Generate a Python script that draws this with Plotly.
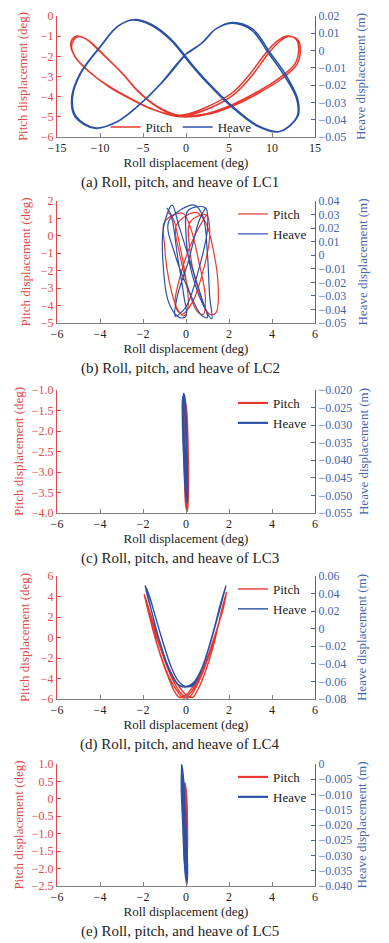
import plotly.graph_objects as go

# ---------------- DATA ----------------
# LC1 : pitch vs roll (two cycles)
lc1_pitch_roll = [0.2, 2.5, 5.3, 8.0, 10.8, 12.7, 13.1, 12.8, 11.7, 10.6, 9.4, 7.2, 5.3, 2.5, 0.0, -1.0, -3.3, -5.5, -7.4, -10.0, -11.6, -12.7, -13.3, -13.4, -12.9, -11.5, -9.2, -6.5, -4.1, -1.4,
                  0.4, 2.7, 5.5, 8.2, 11.0, 12.9, 13.3, 13.0, 11.9, 10.8, 9.6, 7.4, 5.4, 2.6, 0.1, -0.9, -3.2, -5.4, -7.3, -9.8, -11.4, -12.5, -13.1, -13.3, -12.8, -11.3, -9.0, -6.3, -3.9, -1.2, 0.4]
lc1_pitch = [-4.97, -4.83, -4.41, -3.83, -3.09, -2.35, -1.6, -1.15, -0.99, -1.25, -1.77, -3.0, -3.83, -4.5, -4.88, -4.91, -4.5, -3.75, -2.84, -1.77, -1.15, -0.99, -1.2, -1.5, -2.02, -2.68, -3.42, -4.08, -4.58, -4.93,
             -5.0, -4.86, -4.45, -3.88, -3.15, -2.4, -1.65, -1.18, -1.02, -1.3, -1.85, -3.1, -3.95, -4.6, -4.93, -4.95, -4.55, -3.82, -2.9, -1.82, -1.2, -1.02, -1.22, -1.55, -2.08, -2.74, -3.5, -4.15, -4.63, -4.97, -5.0]
# LC1 : heave vs roll (two cycles)
lc1_heave_roll = [-0.2, 1.8, 3.3, 5.3, 7.6, 9.6, 11.5, 12.9, 12.9, 10.8, 8.4, 5.3, 2.5, 0.6, -1.8, -4.1, -6.2, -8.0, -10.0, -12.3, -13.3, -12.9, -10.6, -8.0, -5.7, -2.9,
                  -0.1, 1.9, 3.4, 5.4, 7.8, 9.8, 11.7, 13.0, 13.0, 10.9, 8.5, 5.4, 2.6, 0.7, -1.7, -4.0, -6.0, -7.9, -9.9, -12.2, -13.2, -12.8, -10.5, -7.9, -5.6, -2.8, -0.1]
lc1_heave = [-0.0026, 0.0042, 0.0119, 0.0158, 0.0119, -0.0016, -0.0151, -0.0286, -0.0383, -0.047, -0.044, -0.0325, -0.0189, -0.0083, 0.0061, 0.0148, 0.0177, 0.0138, 0.0022, -0.0131, -0.0276, -0.0383, -0.045, -0.0411, -0.0325, -0.0189,
             -0.0024, 0.0045, 0.0122, 0.0162, 0.0122, -0.0014, -0.0148, -0.0283, -0.0381, -0.0468, -0.0438, -0.0322, -0.0186, -0.0080, 0.0064, 0.0151, 0.0180, 0.0141, 0.0025, -0.0128, -0.0273, -0.0380, -0.0448, -0.0409, -0.0322, -0.0186, -0.0024]

# LC2
lc2_pitch_roll = [-0.85, -0.6, -0.3, 0.0, 0.1, -0.1, -0.4, -0.8, -1.0, -1.0,
                  -0.15, 0.2, 0.6, 0.9, 0.8, 0.5, 0.1, -0.3, -0.45,
                  0.45, 0.9, 1.3, 1.5, 1.4, 1.1, 0.6, 0.2, 0.2,
                  0.95, 1.1, 0.8, 0.3, -0.2, -0.5, -0.2, 0.4, 0.95]
lc2_pitch = [1.35, 1.0, -0.5, -2.5, -4.0, -4.6, -4.2, -2.5, -0.5, 0.8,
             1.3, 0.5, -1.5, -3.5, -4.5, -4.3, -3.0, -1.0, 0.6,
             1.35, 0.8, -1.0, -3.0, -4.4, -4.5, -3.2, -1.0, 0.8,
             1.2, 0.0, -2.0, -3.8, -4.5, -4.0, -2.0, 0.0, 1.2]
lc2_heave_roll = [-0.9, -0.7, -0.4, -0.1, 0.0, -0.3, -0.8, -1.05, -1.05,
                  -0.65, -0.3, 0.3, 0.8, 1.0, 0.7, 0.1, -0.5, -0.8,
                  0.4, 0.8, 1.0, 1.1, 1.2, 0.9, 0.3, 0.0, 0.1,
                  0.9, 1.0, 0.6, 0.0, -0.5, -0.4, 0.1, 0.6, 0.9]
lc2_heave = [0.035, 0.03, 0.0, -0.03, -0.045, -0.046, -0.035, -0.01, 0.02,
             0.037, 0.02, -0.01, -0.035, -0.046, -0.044, -0.025, 0.0, 0.025,
             0.037, 0.028, 0.0, -0.03, -0.047, -0.04, -0.015, 0.015, 0.033,
             0.035, 0.02, -0.01, -0.038, -0.045, -0.03, -0.005, 0.025, 0.035]

# LC3
lc3_pitch_roll = [-0.05, 0.03, 0.08, 0.1, 0.06, 0.0, -0.06, -0.1, -0.08, -0.05]
lc3_pitch = [-1.25, -1.6, -2.4, -3.3, -3.95, -3.8, -3.0, -2.1, -1.5, -1.25]
lc3_heave_roll = [-0.1, -0.03, 0.02, 0.05, 0.04, -0.02, -0.1, -0.15, -0.13, -0.08, -0.01, 0.03, 0.06, 0.03, -0.04, -0.12, -0.14, -0.1]
lc3_heave = [-0.021, -0.026, -0.036, -0.046, -0.052, -0.048, -0.038, -0.028, -0.022, -0.0215, -0.03, -0.04, -0.051, -0.05, -0.042, -0.032, -0.024, -0.021]

# LC4
lc4_pitch_roll = [-1.94, -1.75, -1.55, -1.3, -1.05, -0.8, -0.55, -0.3, 0.0, 0.35, 0.7, 1.0, 1.3, 1.55, 1.75, 1.88,
                  1.7, 1.5, 1.3, 1.05, 0.8, 0.55, 0.3, 0.0, -0.35, -0.7, -1.0, -1.3, -1.55, -1.8, -1.94,
                  -1.8, -1.6, -1.35, -1.1, -0.8, -0.45, -0.1, 0.25, 0.55, 0.85, 1.15, 1.45, 1.7, 1.88,
                  1.75, 1.55, 1.3, 1.0, 0.7, 0.4, 0.1, -0.25, -0.55, -0.85, -1.15, -1.45, -1.7, -1.94]
lc4_pitch = [4.2, 2.5, 0.8, -1.0, -2.6, -4.0, -5.2, -5.85, -5.6, -4.7, -3.4, -2.0, -0.3, 1.5, 3.0, 4.4,
             3.0, 1.2, -0.6, -2.4, -3.9, -5.1, -5.85, -5.6, -4.7, -3.4, -2.0, -0.2, 1.6, 3.3, 4.2,
             2.9, 1.3, -0.6, -2.2, -3.8, -5.1, -5.9, -5.3, -4.2, -2.8, -1.0, 0.9, 2.8, 4.4,
             3.2, 1.6, -0.2, -2.2, -3.8, -5.1, -5.9, -5.4, -4.4, -3.0, -1.3, 0.6, 2.5, 4.2]
lc4_heave_roll = [-1.9, -1.75, -1.55, -1.3, -1.05, -0.8, -0.5, -0.25, 0.1, 0.4, 0.7, 0.95, 1.2, 1.45, 1.7, 1.86,
                  1.72, 1.55, 1.3, 1.05, 0.8, 0.5, 0.3, -0.1, -0.4, -0.7, -0.95, -1.2, -1.45, -1.7, -1.9,
                  -1.78, -1.6, -1.4, -1.15, -0.9, -0.6, -0.3, 0.2, 0.55, 0.85, 1.1, 1.35, 1.6, 1.86]
lc4_heave = [0.049, 0.035, 0.015, -0.008, -0.028, -0.045, -0.06, -0.065, -0.065, -0.06, -0.047, -0.03, -0.01, 0.012, 0.035, 0.049,
             0.036, 0.02, -0.002, -0.023, -0.042, -0.058, -0.065, -0.065, -0.058, -0.043, -0.025, -0.005, 0.016, 0.037, 0.049,
             0.036, 0.02, 0.0, -0.02, -0.04, -0.056, -0.065, -0.065, -0.055, -0.038, -0.018, 0.004, 0.028, 0.049]

# LC5
lc5_pitch_roll = [-0.05, 0.02, 0.05, 0.04, -0.02, -0.08, -0.1, -0.08, -0.05]
lc5_pitch = [0.45, 0.0, -0.8, -1.6, -1.95, -1.6, -0.8, 0.0, 0.45]
lc5_heave_roll = [-0.2, -0.12, -0.05, 0.0, 0.05, 0.03, -0.05, -0.13, -0.2, -0.18, -0.1, -0.02, 0.04, 0.05, -0.02, -0.1, -0.17, -0.2]
lc5_heave = [-0.0002, -0.006, -0.015, -0.025, -0.035, -0.0395, -0.032, -0.02, -0.008, -0.001, -0.01, -0.02, -0.03, -0.039, -0.036, -0.025, -0.012, -0.0002]

# ---------------- ticks ----------------
roll_ticks_lc1 = [-15, -10, -5, 0, 5, 10, 15]
roll_labels_lc1 = ["\u221215", "\u221210", "\u22125", "0", "5", "10", "15"]
roll_ticks = [-6, -4, -2, 0, 2, 4, 6]
roll_labels = ["\u22126", "\u22124", "\u22122", "0", "2", "4", "6"]

pitch_ticks_lc1 = [0, -1, -2, -3, -4, -5, -6]
pitch_labels_lc1 = ["0", "\u22121", "\u22122", "\u22123", "\u22124", "\u22125", "\u22126"]
heave_ticks_lc1 = [0.02, 0.01, 0, -0.01, -0.02, -0.03, -0.04, -0.05]
heave_labels_lc1 = ["0.02", "0.01", "0", "\u22120.01", "\u22120.02", "\u22120.03", "\u22120.04", "\u22120.05"]

pitch_ticks_lc2 = [2, 1, 0, -1, -2, -3, -4, -5]
pitch_labels_lc2 = ["2", "1", "0", "\u22121", "\u22122", "\u22123", "\u22124", "\u22125"]
heave_ticks_lc2 = [0.04, 0.03, 0.02, 0.01, 0, -0.01, -0.02, -0.03, -0.04, -0.05]
heave_labels_lc2 = ["0.04", "0.03", "0.02", "0.01", "0", "\u22120.01", "\u22120.02", "\u22120.03", "\u22120.04", "\u22120.05"]

pitch_ticks_lc3 = [-1.0, -1.5, -2.0, -2.5, -3.0, -3.5, -4.0]
pitch_labels_lc3 = ["\u22121.0", "\u22121.5", "\u22122.0", "\u22122.5", "\u22123.0", "\u22123.5", "\u22124.0"]
heave_ticks_lc3 = [-0.020, -0.025, -0.030, -0.035, -0.040, -0.045, -0.050, -0.055]
heave_labels_lc3 = ["\u22120.020", "\u22120.025", "\u22120.030", "\u22120.035", "\u22120.040", "\u22120.045", "\u22120.050", "\u22120.055"]

pitch_ticks_lc4 = [6, 4, 2, 0, -2, -4, -6]
pitch_labels_lc4 = ["6", "4", "2", "0", "\u22122", "\u22124", "\u22126"]
heave_ticks_lc4 = [0.06, 0.04, 0.02, 0, -0.02, -0.04, -0.06, -0.08]
heave_labels_lc4 = ["0.06", "0.04", "0.02", "0", "\u22120.02", "\u22120.04", "\u22120.06", "\u22120.08"]

pitch_ticks_lc5 = [1.0, 0.5, 0, -0.5, -1.0, -1.5, -2.0, -2.5]
pitch_labels_lc5 = ["1.0", "0.5", "0", "\u22120.5", "\u22121.0", "\u22121.5", "\u22122.0", "\u22122.5"]
heave_ticks_lc5 = [0, -0.005, -0.010, -0.015, -0.020, -0.025, -0.030, -0.035, -0.040]
heave_labels_lc5 = ["0", "\u22120.005", "\u22120.010", "\u22120.015", "\u22120.020", "\u22120.025", "\u22120.030", "\u22120.035", "\u22120.040"]

captions = ["(a) Roll, pitch, and heave of LC1", "(b) Roll, pitch, and heave of LC2",
            "(c) Roll, pitch, and heave of LC3", "(d) Roll, pitch, and heave of LC4",
            "(e) Roll, pitch, and heave of LC5"]

# ---------------- styling ----------------
W, H = 389, 943
RED = "#e8382f"
BLUE = "#2b51a6"
RED_AX = "#e4474a"
BLUE_AX = "#4466ae"
GRAY = "#808080"
FONT = "Liberation Serif, Times New Roman, serif"

panels = [
    dict(pr=lc1_pitch_roll, p=lc1_pitch, hr=lc1_heave_roll, h=lc1_heave,
         xr=[-15, 15], xt=roll_ticks_lc1, xl=roll_labels_lc1,
         pr_rng=[-6, 0], pt=pitch_ticks_lc1, pl=pitch_labels_lc1,
         hr_rng=[-0.05, 0.02], ht=heave_ticks_lc1, hl=heave_labels_lc1,
         top=16, bot=137, lso=10, rso=10, w=1.5),
    dict(pr=lc2_pitch_roll, p=lc2_pitch, hr=lc2_heave_roll, h=lc2_heave,
         xr=[-6, 6], xt=roll_ticks, xl=roll_labels,
         pr_rng=[-5, 2], pt=pitch_ticks_lc2, pl=pitch_labels_lc2,
         hr_rng=[-0.05, 0.04], ht=heave_ticks_lc2, hl=heave_labels_lc2,
         top=201, bot=323, lso=7, rso=12, w=1.2),
    dict(pr=lc3_pitch_roll, p=lc3_pitch, hr=lc3_heave_roll, h=lc3_heave,
         xr=[-6, 6], xt=roll_ticks, xl=roll_labels,
         pr_rng=[-4.0, -1.0], pt=pitch_ticks_lc3, pl=pitch_labels_lc3,
         hr_rng=[-0.055, -0.020], ht=heave_ticks_lc3, hl=heave_labels_lc3,
         top=390, bot=513, lso=5, rso=7, w=2.2),
    dict(pr=lc4_pitch_roll, p=lc4_pitch, hr=lc4_heave_roll, h=lc4_heave,
         xr=[-6, 6], xt=roll_ticks, xl=roll_labels,
         pr_rng=[-6, 6], pt=pitch_ticks_lc4, pl=pitch_labels_lc4,
         hr_rng=[-0.08, 0.06], ht=heave_ticks_lc4, hl=heave_labels_lc4,
         top=576, bot=699, lso=8, rso=11, w=1.4),
    dict(pr=lc5_pitch_roll, p=lc5_pitch, hr=lc5_heave_roll, h=lc5_heave,
         xr=[-6, 6], xt=roll_ticks, xl=roll_labels,
         pr_rng=[-2.5, 1.0], pt=pitch_ticks_lc5, pl=pitch_labels_lc5,
         hr_rng=[-0.040, 0.0], ht=heave_ticks_lc5, hl=heave_labels_lc5,
         top=764, bot=886, lso=5, rso=5, w=2.2),
]

XDOM = [57 / W, 315 / W]

fig = go.Figure()
layout = dict(
    width=W, height=H, margin=dict(l=0, r=0, t=0, b=0),
    paper_bgcolor="white", plot_bgcolor="white",
    font=dict(family=FONT, size=12, color="#222"),
    annotations=[],
)

for i, p in enumerate(panels):
    k = i + 1
    xa = "x" if k == 1 else f"x{k}"
    yl = "y" if k == 1 else f"y{2 * k - 1}"
    yr = f"y{2 * k}"
    leg = "legend" if k == 1 else f"legend{k}"
    ydom = [1 - p["bot"] / H, 1 - p["top"] / H]

    fig.add_trace(go.Scatter(
        x=p["pr"], y=p["p"], xaxis=xa, yaxis=yl, mode="lines", name="Pitch",
        line=dict(color=RED, width=p["w"], shape="spline", smoothing=1.0),
        legend=leg, hoverinfo="skip"))
    fig.add_trace(go.Scatter(
        x=p["hr"], y=p["h"], xaxis=xa, yaxis=yr, mode="lines", name="Heave",
        line=dict(color=BLUE, width=p["w"], shape="spline", smoothing=1.0),
        legend=leg, hoverinfo="skip"))

    xkey = "xaxis" if k == 1 else f"xaxis{k}"
    ylkey = "yaxis" if k == 1 else f"yaxis{2 * k - 1}"
    yrkey = f"yaxis{2 * k}"

    layout[xkey] = dict(
        domain=XDOM, anchor=yl, range=p["xr"], tickvals=p["xt"], ticktext=p["xl"],
        ticks="inside", ticklen=4, tickcolor=GRAY, showline=True, linecolor=GRAY,
        linewidth=1, showgrid=False, zeroline=False, automargin=False,
        tickfont=dict(family=FONT, size=12, color="#222"),
        title=dict(text="Roll displacement (deg)", standoff=2,
                   font=dict(family=FONT, size=13, color="#222")))
    layout[ylkey] = dict(
        domain=ydom, anchor=xa, range=p["pr_rng"], tickvals=p["pt"], ticktext=p["pl"],
        ticks="inside", ticklen=4, tickcolor=RED_AX, showline=True, linecolor=RED_AX,
        linewidth=1, showgrid=False, zeroline=False, automargin=False,
        tickfont=dict(family=FONT, size=12, color=RED_AX),
        title=dict(text="Pitch displacement (deg)", standoff=p["lso"],
                   font=dict(family=FONT, size=13, color=RED_AX)))
    layout[yrkey] = dict(
        overlaying=yl, side="right", anchor=xa, range=p["hr_rng"], tickvals=p["ht"],
        ticktext=p["hl"], ticks="inside", ticklen=4, tickcolor=BLUE_AX, showline=True,
        linecolor=BLUE_AX, linewidth=1, showgrid=False, zeroline=False, automargin=False,
        tickfont=dict(family=FONT, size=12, color=BLUE_AX),
        title=dict(text="Heave displacement (m)", standoff=p["rso"],
                   font=dict(family=FONT, size=13, color=BLUE_AX)))

    if k == 1:
        layout[leg] = dict(orientation="h", x=181 / W, xanchor="center",
                           y=1 - 127 / H, yanchor="middle", bgcolor="rgba(255,255,255,0)",
                           font=dict(family=FONT, size=13, color="#222"),
                           itemwidth=30, tracegroupgap=0)
    else:
        layout[leg] = dict(orientation="v", x=312 / W, xanchor="right",
                           y=1 - (p["top"] - 2) / H, yanchor="top",
                           bgcolor="rgba(255,255,255,0)",
                           font=dict(family=FONT, size=13, color="#222"),
                           itemwidth=30, tracegroupgap=0)

    layout["annotations"].append(dict(
        text=captions[i], xref="paper", yref="paper", x=180 / W,
        y=1 - (p["bot"] + 45) / H, xanchor="center", yanchor="middle",
        showarrow=False, font=dict(family=FONT, size=15, color="#222")))

fig.update_layout(**layout)
fig.write_html("out.html",
               config={"displayModeBar": False},
               post_script="document.body.style.margin='0';document.body.style.overflow='hidden';")
